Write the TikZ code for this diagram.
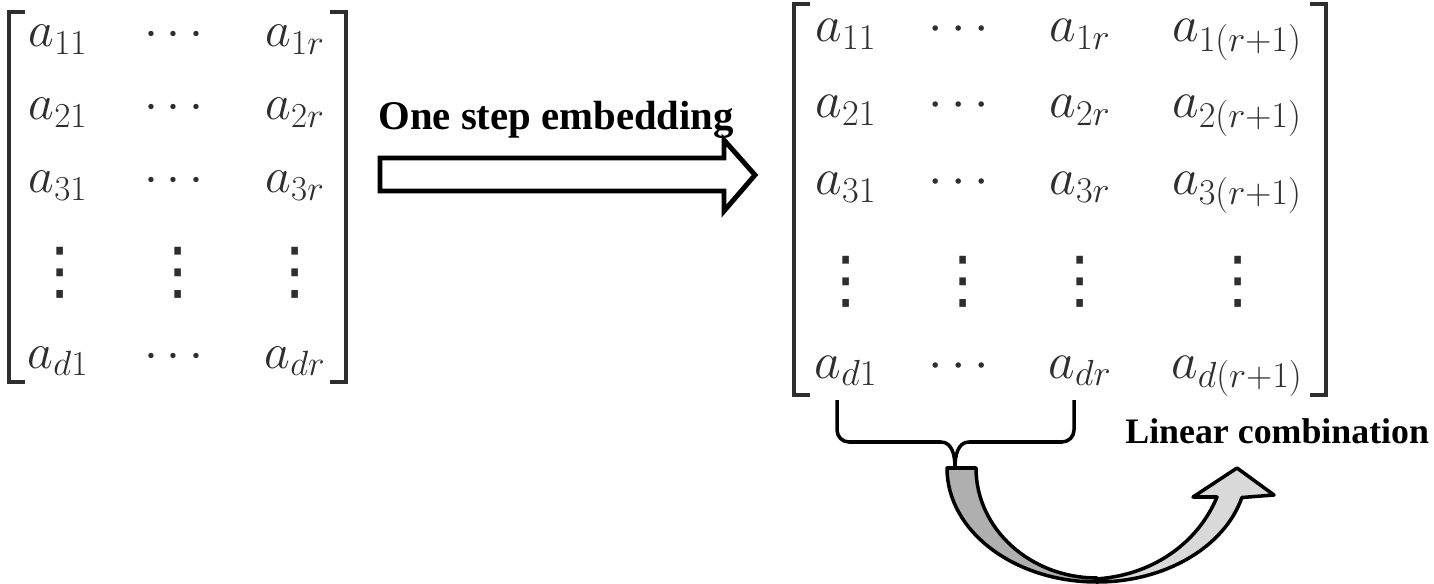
\RequirePackage{fix-cm}
\documentclass[tikz,border=0pt]{standalone}
\usepackage{amsmath,amssymb}
\usepackage{fontspec}
\newfontfamily\labelfont{Liberation Serif}
\newfontfamily\punktfont{DejaVu Sans}
\definecolor{matrixgrau}{HTML}{2E2E2E}
\definecolor{dunkelgrau}{HTML}{AFAFAF}
\definecolor{hellgrau}{HTML}{D9D9D9}
\newcommand{\hohepunkte}{{\punktfont\fontsize{36}{36}\selectfont ⋮}}

\begin{document}
\begin{tikzpicture}[x=0.02cm,y=0.02cm,
	eintraglinks/.style={color=matrixgrau,inner sep=0pt,
		font=\fontsize{28.5}{28.5}\selectfont},
	eintragrechts/.style={color=matrixgrau,inner sep=0pt,
		font=\fontsize{29.5}{29.5}\selectfont},
	klammer/.style={draw=matrixgrau,line width=2pt},
	blockpfeil/.style={draw=black,fill=white,line width=2.8pt},
	bogen/.style={draw=black,line width=2pt,line join=round},
	beschriftung/.style={color=black,inner sep=0pt,anchor=base west}]

\def\bildbreite{1434}
\def\bildhoehe{584}

\useasboundingbox (0,0) rectangle (\bildbreite,-\bildhoehe);
\fill[white] (0,0) rectangle (\bildbreite,-\bildhoehe);

% linke Matrix
\foreach \z/\y in {1/47,2/120,3/193,d/368}{
	\node[eintraglinks,anchor=base] (l\z1) at (58,-\y) {$a_{\z1}$};
	\node[eintraglinks,anchor=base] (l\z2) at (178,-\y) {$\cdots$};
	\node[eintraglinks,anchor=base] (l\z3) at (295,-\y) {$a_{\z r}$};
}
\foreach \s/\x in {1/60,2/178,3/295}
	\node[eintraglinks] (lv\s) at (\x,-273) {\hohepunkte};

\draw[klammer] (25,-12) -- (9,-12) -- (9,-382) -- (25,-382);
\draw[klammer] (330,-12) -- (346,-12) -- (346,-382) -- (330,-382);

% rechte Matrix
\foreach \z/\y in {1/42,2/118,3/195,d/378}{
	\node[eintragrechts,anchor=base] (r\z1) at (846,-\y) {$a_{\z1}$};
	\node[eintragrechts,anchor=base] (r\z2) at (963,-\y) {$\cdots$};
	\node[eintragrechts,anchor=base] (r\z3) at (1080,-\y) {$a_{\z r}$};
	\node[eintragrechts,anchor=base] (r\z4) at (1237,-\y) {$a_{\z(r+1)}$};
}
\foreach \s/\x in {1/846,2/963,3/1080,4/1238}
	\node[eintragrechts] (rv\s) at (\x,-282) {\hohepunkte};

\draw[klammer] (810,-4) -- (794,-4) -- (794,-395) -- (810,-395);
\draw[klammer] (1310,-4) -- (1326,-4) -- (1326,-395) -- (1310,-395);

% Pfeil
\draw[blockpfeil] (380,-158) -- (724,-158) -- (724,-140) -- (755,-175)
	-- (724,-211) -- (724,-191) -- (380,-191) -- cycle;
\node[beschriftung] (einbettung) at (378,-130)
	{\labelfont\bfseries\fontsize{23.2}{28}\selectfont One step embedding};

% gebogener Pfeil
\coordinate (bogenunten) at (1097,-582);
\filldraw[bogen,fill=dunkelgrau] (947,-468) -- (976,-468)
	arc[start angle=180,end angle=270,x radius=121,y radius=110]
	-- (bogenunten)
	arc[start angle=270,end angle=180,x radius=150,y radius=114] -- cycle;
\filldraw[bogen,fill=hellgrau] (bogenunten)
	arc[start angle=270,end angle=345,x radius=150,y radius=114]
	-- (1274,-495) -- (1237,-468) -- (1193,-497) -- (1217,-497)
	.. controls (1197,-545) and (1150,-576) .. (1095,-579) -- cycle;

% Klammer
\coordinate (klammerlinks) at (837,-400);
\coordinate (klammerrechts) at (1074,-400);
\coordinate (klammerspitze) at (955,-467);
\draw[bogen] (klammerlinks) -- (837,-430) to[out=-90,in=180] (849,-442)
	-- (941,-442) to[out=0,in=90] (klammerspitze)
	to[out=90,in=180] (969,-442) -- (1062,-442)
	to[out=0,in=-90] (1074,-430) -- (klammerrechts);

\node[beschriftung] (kombination) at (1125,-443)
	{\labelfont\bfseries\fontsize{20.4}{24}\selectfont Linear combination};

\end{tikzpicture}
\end{document}
